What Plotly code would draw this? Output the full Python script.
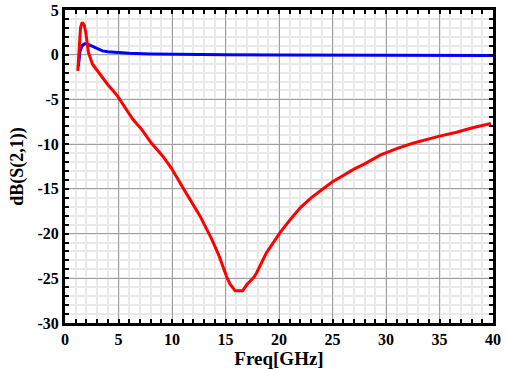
import plotly.graph_objects as go

# Data
red_freq = [1.2, 1.3, 1.45, 1.6, 1.8, 1.94, 2.19, 2.57, 3.19, 3.97, 4.9, 5.7, 6.32, 7.2, 8.05, 9.14, 9.92,
            11.33, 12.6, 13.7, 14.4, 15.1, 15.4, 15.9, 16.6, 17.0, 17.65, 17.9, 18.8, 20.1, 21.0, 22.0, 23.0,
            24.0, 25.0, 26.0, 27.0, 28.0, 29.5, 31.0, 32.5, 35.0, 36.5, 38.0, 39.8]
red_db = [-1.8, 0.5, 3.0, 3.6, 3.3, 2.5, 0.25, -1.06, -2.07, -3.3, -4.6, -6.0, -7.2, -8.4, -9.85, -11.35, -12.65,
          -15.5, -18.0, -20.6, -22.5, -24.8, -25.6, -26.4, -26.4, -25.7, -24.9, -24.4, -22.2, -19.9, -18.5, -17.1, -16.0,
          -15.1, -14.2, -13.5, -12.8, -12.2, -11.2, -10.5, -9.9, -9.1, -8.7, -8.2, -7.7]

blue_freq = [1.25, 1.4, 1.6, 1.8, 2.0, 2.5, 3.0, 3.5, 4.0, 4.9, 6.0, 8.0, 10.0, 15.0, 20.0, 30.0, 40.0]
blue_db = [-1.3, 0.4, 1.0, 1.2, 1.25, 0.95, 0.65, 0.43, 0.32, 0.22, 0.15, 0.08, 0.04, 0.0, -0.02, -0.06, -0.1]

x_ticks = [0, 5, 10, 15, 20, 25, 30, 35, 40]
y_ticks = [5, 0, -5, -10, -15, -20, -25, -30]

fig = go.Figure()
fig.add_trace(go.Scatter(x=blue_freq, y=blue_db, mode="lines",
                         line=dict(color="#0000ff", width=3), showlegend=False))
fig.add_trace(go.Scatter(x=red_freq, y=red_db, mode="lines",
                         line=dict(color="#ff0000", width=3), showlegend=False))

font_family = "Liberation Serif"
axis_common = dict(
    showline=True, linecolor="black", linewidth=3, mirror="allticks",
    ticks="inside", ticklen=4, tickwidth=1.5, tickcolor="black",
    showgrid=True, gridcolor="#a0a0a0", gridwidth=1.2,
    zeroline=False, automargin=False,
    tickfont=dict(family=font_family, size=16, color="black", weight="bold"),
)

fig.update_xaxes(
    range=[0, 40], tickvals=x_ticks, ticktext=[str(v) for v in x_ticks],
    minor=dict(dtick=1, tick0=0, showgrid=True, gridcolor="#e9e9e9", gridwidth=1.5,
               ticks="inside", ticklen=4, tickcolor="black", tickwidth=1.5),
    title=dict(text="Freq[GHz]", font=dict(family=font_family, size=19, color="black", weight="bold"),
               standoff=0),
    **axis_common,
)
fig.update_yaxes(
    range=[-30, 5], tickvals=y_ticks, ticktext=[str(v) for v in y_ticks],
    minor=dict(dtick=1, tick0=0, showgrid=True, gridcolor="#e9e9e9", gridwidth=1.5,
               ticks="inside", ticklen=4, tickcolor="black", tickwidth=1.5),
    title=dict(text="dB(S(2,1))", font=dict(family=font_family, size=18, color="black", weight="bold"),
               standoff=10),
    **axis_common,
)

fig.update_layout(
    width=507, height=369,
    margin=dict(l=65, r=14, t=10, b=46),
    plot_bgcolor="white", paper_bgcolor="white",
)

fig.write_html("out.html", config={"displayModeBar": False},
               post_script="document.body.style.margin='0';document.body.style.overflow='hidden';")
